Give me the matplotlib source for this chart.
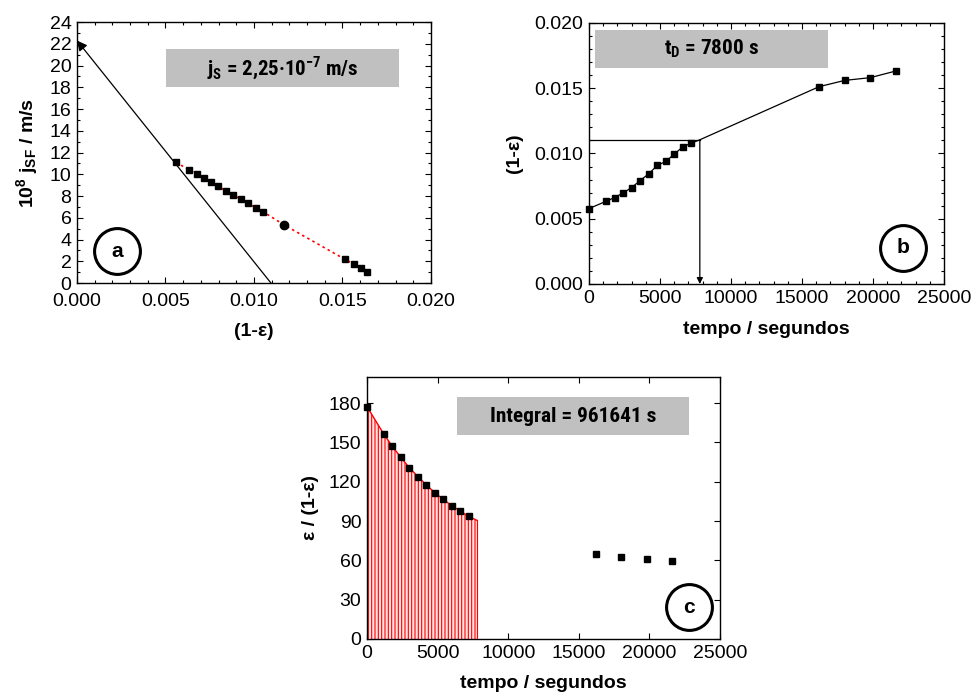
import matplotlib
matplotlib.use("Agg")
import matplotlib.pyplot as plt
from matplotlib import font_manager as fm
from matplotlib.ticker import MultipleLocator

# ---------------- data ----------------
# panel a: (1-eps) vs 10^8 j_SF
a_x = [0.00559, 0.00635, 0.00676, 0.00716, 0.00757, 0.00798, 0.00840,
       0.00883, 0.00925, 0.00966, 0.01009, 0.01051]
a_y = [11.10, 10.39, 10.02, 9.62, 9.26, 8.89, 8.49, 8.09, 7.72, 7.33, 6.93, 6.56]
a_circle_x = [0.01169]
a_circle_y = [5.36]
a_late_x = [0.01514, 0.01567, 0.01606, 0.01640]
a_late_y = [2.18, 1.72, 1.35, 0.98]
a_tangent_x = [0.01096, 0.0]
a_tangent_y = [0.0, 22.3]

# panel b: time vs (1-eps)
b_t = [0, 1200, 1800, 2400, 3000, 3600, 4200, 4800, 5400, 6000, 6600, 7200]
b_v = [0.00578, 0.00634, 0.00662, 0.00698, 0.00739, 0.00793, 0.00844,
       0.00908, 0.00939, 0.00995, 0.01051, 0.01079]
b_late_t = [16200, 18000, 19800, 21600]
b_late_v = [0.01512, 0.01560, 0.01581, 0.01632]
t_D = 7800
v_D = 0.01105

# panel c: time vs eps/(1-eps)
c_t = [0, 1200, 1800, 2400, 3000, 3600, 4200, 4800, 5400, 6000, 6600, 7200]
c_v = [177.4, 156.2, 147.0, 138.6, 130.7, 124.0, 117.6, 111.7, 106.6, 101.8, 97.7, 93.6]
c_late_t = [16200, 18000, 19800, 21600]
c_late_v = [64.9, 62.6, 60.9, 59.6]
c_curve_end = 90.5

label_a = "j$_\\mathregular{S}$ = 2,25·10$^\\mathregular{-7}$ m/s"
label_b = "t$_\\mathregular{D}$ = 7800 s"
label_c = "Integral = 961641 s"

# ---------------- fonts ----------------
ttf = fm.fontManager.ttflist
names = {f.name for f in ttf}
base = "Liberation Sans" if "Liberation Sans" in names else "DejaVu Sans"


def find_condensed():
    prefs = ["Liberation Sans Narrow", "Roboto Condensed", "Open Sans Condensed",
             "Noto Sans Condensed", "DejaVu Sans Condensed"]
    for p in prefs:
        for f in ttf:
            if f.name == p and f.weight in ('bold', 700):
                return fm.FontProperties(fname=f.fname)
    for f in ttf:
        if f.stretch in ('condensed', 'semi-condensed', 'extra-condensed') and \
                f.weight in ('bold', 700) and 'Mono' not in f.name:
            return fm.FontProperties(fname=f.fname)
    return fm.FontProperties(family=base, weight='bold')


box_font = find_condensed()

plt.rcParams['font.family'] = [base, 'DejaVu Sans']
plt.rcParams['mathtext.fontset'] = 'custom'
plt.rcParams['mathtext.rm'] = base + ':bold'
plt.rcParams['mathtext.it'] = base + ':bold'
plt.rcParams['mathtext.bf'] = base + ':bold'
plt.rcParams['hatch.linewidth'] = 0.8
plt.rcParams['axes.linewidth'] = 1.0

FS = 14

fig = plt.figure(figsize=(9.73, 6.92), dpi=100)
axA = fig.add_axes([0.0791, 0.591, 0.3638, 0.3772])
axB = fig.add_axes([0.6054, 0.5896, 0.3649, 0.3772])
axC = fig.add_axes([0.3772, 0.0766, 0.3628, 0.3786])
renderer = fig.canvas.get_renderer()


def style(ax):
    ax.tick_params(which='both', direction='in', top=True, right=True, labelsize=FS)
    ax.tick_params(which='major', length=4, width=0.8, pad=4)
    ax.tick_params(which='minor', length=2.5, width=0.8)


def badge(ax, x, y, letter):
    ax.plot([x], [y], marker='o', ms=33, mfc='none', mec='black', mew=2.2,
            transform=ax.transAxes, clip_on=False, zorder=10)
    ax.text(x, y, letter, transform=ax.transAxes, ha='center', va='center',
            fontsize=15, fontweight='bold', zorder=11)


def box(ax, x0, x1, y0, y1, text, width_px):
    ax.fill_between([x0, x1], [y0, y0], [y1, y1], color='#c0c0c0', lw=0, zorder=1)
    fp = box_font.copy()
    fp.set_size(16)
    t = ax.text((x0 + x1) / 2, (y0 + y1) / 2, text, ha='center', va='center',
                fontproperties=fp, zorder=2)
    w = t.get_window_extent(renderer).width
    fit = 16 * width_px / w
    size = min(16.5, 0.5 * (fit + 16))
    fp.set_size(size)
    t.set_fontproperties(fp)


# ---------------- panel a ----------------
ax = axA
all_x = a_x + a_circle_x + a_late_x
all_y = a_y + a_circle_y + a_late_y
ax.plot(all_x, all_y, ls=(0, (1.5, 2)), color='red', lw=1.2, zorder=4)
ax.annotate('', xy=(a_tangent_x[1], a_tangent_y[1]), xytext=(a_tangent_x[0], a_tangent_y[0]),
            arrowprops=dict(arrowstyle='-|>', color='black', lw=0.9,
                            mutation_scale=15, shrinkA=0, shrinkB=0), zorder=3)
ax.plot(a_x + a_late_x, a_y + a_late_y, 's', color='black', ms=4.8, zorder=5, ls='none')
ax.plot(a_circle_x, a_circle_y, 'o', color='black', ms=6, zorder=5)
ax.set_xlim(0, 0.020)
ax.set_ylim(0, 24)
ax.xaxis.set_major_locator(MultipleLocator(0.005))
ax.xaxis.set_minor_locator(MultipleLocator(0.001))
ax.yaxis.set_major_locator(MultipleLocator(2))
ax.yaxis.set_minor_locator(MultipleLocator(1))
ax.xaxis.set_major_formatter(plt.FuncFormatter(lambda v, p: f"{v:.3f}"))
style(ax)
ax.tick_params(axis='x', which='major', pad=7)
ax.set_xlabel("(1-ε)", fontsize=FS, fontweight='bold')
ax.xaxis.set_label_coords(0.5, -0.152)
ax.set_ylabel("10$^\\mathregular{8}$ j$_\\mathregular{SF}$ / m/s", fontsize=FS,
              fontweight='bold')
ax.yaxis.set_label_coords(-0.104, 0.5)
box(ax, 0.00505, 0.01821, 18.0, 21.55, label_a, 142)
badge(ax, 0.113, 0.1226, 'a')

# ---------------- panel b ----------------
ax = axB
line_t = b_t + [t_D] + b_late_t
line_v = b_v + [v_D] + b_late_v
ax.plot(line_t, line_v, color='black', lw=0.9, zorder=3)
ax.plot([0, t_D], [v_D, v_D], color='black', lw=0.9, zorder=3)
ax.annotate('', xy=(t_D, 0), xytext=(t_D, v_D),
            arrowprops=dict(arrowstyle='-|>', color='black', lw=0.9,
                            mutation_scale=9, shrinkA=0, shrinkB=0), zorder=3)
ax.plot(b_t + b_late_t, b_v + b_late_v, 's', color='black', ms=5, ls='none',
        zorder=5, clip_on=False)
ax.set_xlim(0, 25000)
ax.set_ylim(0, 0.020)
ax.xaxis.set_major_locator(MultipleLocator(5000))
ax.xaxis.set_minor_locator(MultipleLocator(1000))
ax.yaxis.set_major_locator(MultipleLocator(0.005))
ax.yaxis.set_minor_locator(MultipleLocator(0.001))
ax.yaxis.set_major_formatter(plt.FuncFormatter(lambda v, p: f"{v:.3f}"))
style(ax)
ax.set_xlabel("tempo / segundos", fontsize=FS, fontweight='bold')
ax.xaxis.set_label_coords(0.5, -0.142)
ax.set_ylabel("(1-ε)", fontsize=FS, fontweight='bold')
ax.yaxis.set_label_coords(-0.186, 0.5)
box(ax, 446, 16831, 0.01652, 0.01949, label_b, 91)
badge(ax, 0.8845, 0.138, 'b')

# ---------------- panel c ----------------
ax = axC
curve_t = c_t + [t_D]
curve_v = c_v + [c_curve_end]
ax.fill_between(curve_t, 0, curve_v, facecolor='#ffe2e2', edgecolor='red',
                hatch='|||||', linewidth=0, zorder=2)
ax.plot(curve_t, curve_v, color='red', lw=1.0, zorder=3)
ax.plot([t_D, t_D], [0, c_curve_end], color='red', lw=0.8, zorder=3)
ax.plot(c_t + c_late_t, c_v + c_late_v, 's', color='black', ms=5, ls='none',
        zorder=4, clip_on=False)
ax.set_xlim(0, 25000)
ax.set_ylim(0, 200)
ax.xaxis.set_major_locator(MultipleLocator(5000))
ax.set_yticks([0, 30, 60, 90, 120, 150, 180])
ax.tick_params(which='both', direction='in', top=True, right=True, labelsize=FS,
               length=4, width=0.8, pad=4)
ax.set_xlabel("tempo / segundos", fontsize=FS, fontweight='bold')
ax.xaxis.set_label_coords(0.5, -0.137)
ax.set_ylabel("ε / (1-ε)", fontsize=FS, fontweight='bold')
ax.yaxis.set_label_coords(-0.136, 0.5)
box(ax, 6392, 22783, 155.7, 184.6, label_c, 160)
badge(ax, 0.912, 0.122, 'c')

fig.savefig("out.png", dpi=100)
